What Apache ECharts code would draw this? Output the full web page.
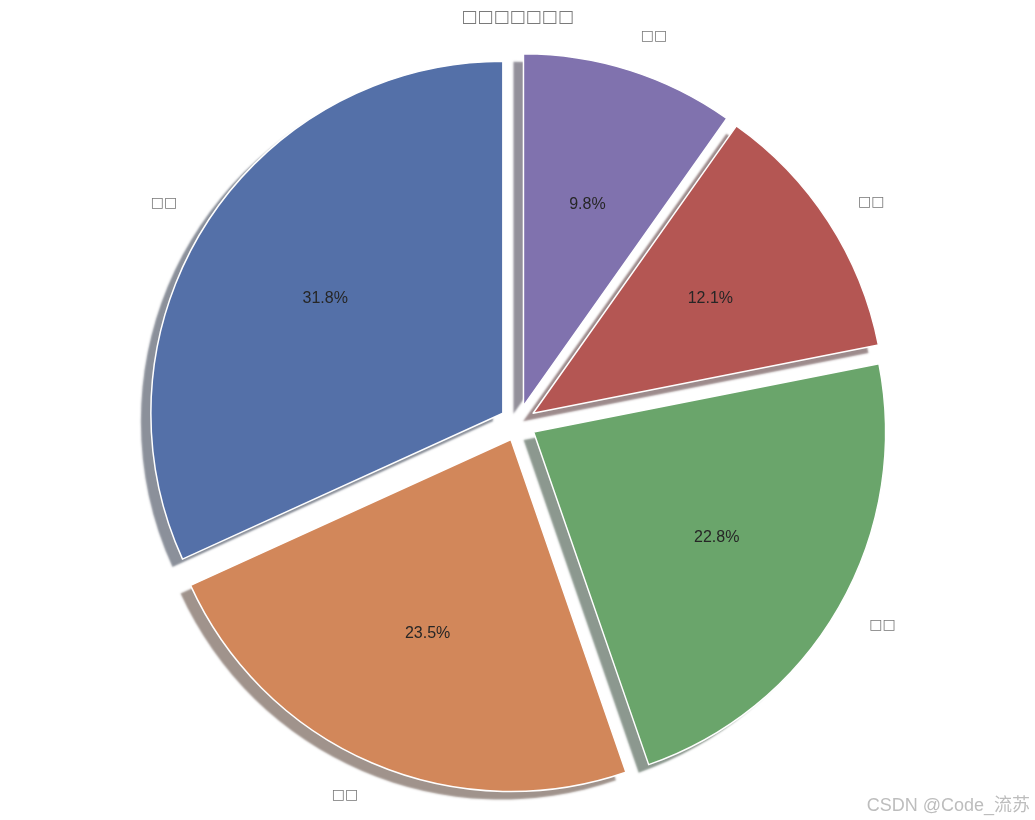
<!DOCTYPE html>
<html>
<head>
<meta charset="utf-8">
<style>html,body{margin:0;padding:0;background:#fff;}#chart{width:1035px;height:820px;}</style>
<script src="https://cdn.jsdelivr.net/npm/echarts@6/dist/echarts.min.js"></script>
</head>
<body>
<div id="chart"></div>
<script>
// ---- data ----
const titleText = '□□□□□□□';
const categories = ['□□', '□□', '□□', '□□', '□□'];
const values = [31.8, 23.5, 22.8, 12.1, 9.8];
const colors = ['#5470a8', '#d2875a', '#6aa56b', '#b45653', '#8072ae'];
const shadowColors = ['rgba(23,34,53,0.5)', 'rgba(66,40,25,0.5)', 'rgba(26,50,31,0.5)', 'rgba(59,23,25,0.5)', 'rgba(39,34,54,0.5)'];
const watermark = 'CSDN @Code_流苏';

const CX = 518, CY = 423, R = 352, OFFSET = 18;

const mainData = categories.map((c, i) => ({
  name: c, value: values[i], selected: true,
  itemStyle: { color: colors[i], shadowColor: shadowColors[i] },
  select: { itemStyle: { color: colors[i], shadowColor: shadowColors[i] } }
}));
const plainData = categories.map((c, i) => ({ name: c, value: values[i], selected: true }));

const transparentStyle = { color: 'rgba(0,0,0,0)', borderWidth: 0 };
const pieBase = {
  type: 'pie', center: [CX, CY], startAngle: 90, clockwise: false,
  selectedMode: 'multiple', selectedOffset: OFFSET, avoidLabelOverlap: false,
  emphasis: { disabled: true }
};

const chart = echarts.init(document.getElementById('chart'), null, { renderer: 'canvas' });
chart.setOption({
  animation: false,
  backgroundColor: '#ffffff',
  title: {
    text: titleText, left: 'center', top: 4,
    textStyle: { fontFamily: 'DejaVu Sans', fontSize: 17, color: '#7a7a7a', fontWeight: 'normal' }
  },
  graphic: [{
    type: 'text', right: 5, bottom: 5,
    style: { text: watermark, fontFamily: 'Liberation Sans, Noto Sans CJK SC', fontSize: 18, fill: '#bdbdbd' }
  }],
  series: [
    Object.assign({}, pieBase, {
      radius: [0, R],
      itemStyle: { borderWidth: 0, shadowBlur: 2, shadowOffsetX: -10, shadowOffsetY: 8 },
      select: { itemStyle: { borderWidth: 0, shadowBlur: 2, shadowOffsetX: -10, shadowOffsetY: 8 } },
      label: {
        show: true, position: 'outside', formatter: '{b}',
        fontFamily: 'DejaVu Sans', fontSize: 14, color: '#777777',
        distanceToLabelLine: 0
      },
      labelLine: { show: false, length: R * 0.1, length2: 0 },
      data: mainData
    }),
    Object.assign({}, pieBase, {
      radius: [0, R], silent: true,
      itemStyle: { color: 'rgba(0,0,0,0)', borderColor: '#ffffff', borderWidth: 1.5 },
      select: { itemStyle: { color: 'rgba(0,0,0,0)', borderColor: '#ffffff', borderWidth: 1.5 } },
      label: { show: false }, labelLine: { show: false },
      data: plainData
    }),
    Object.assign({}, pieBase, {
      radius: [0, (R * 0.6 - 3) * 2], silent: true,
      percentPrecision: 1,
      itemStyle: transparentStyle,
      select: { itemStyle: transparentStyle },
      label: {
        show: true, position: 'inside', formatter: '{d}%',
        fontFamily: 'Liberation Sans', fontSize: 16, color: '#262626'
      },
      labelLine: { show: false },
      data: plainData
    })
  ]
});
</script>
</body>
</html>
